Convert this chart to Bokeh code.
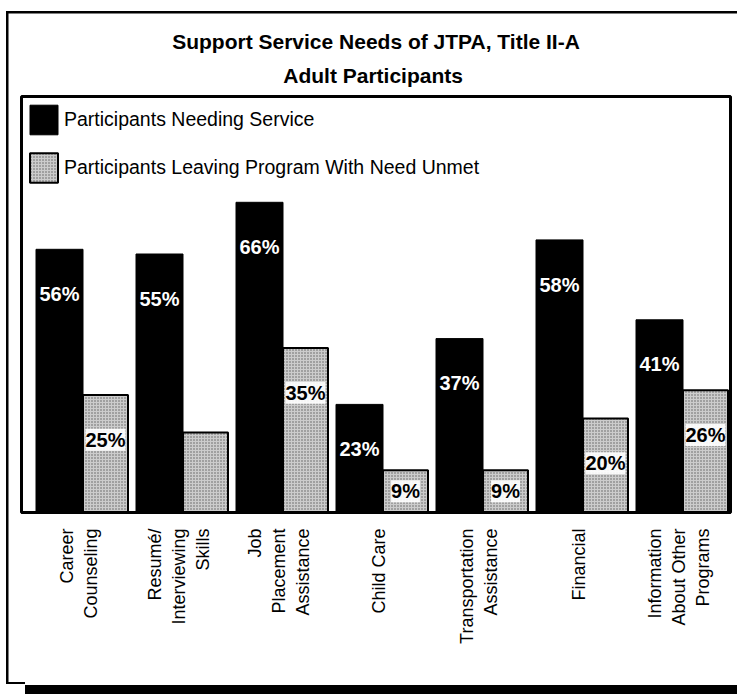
import math
from bokeh.plotting import figure
from bokeh.models import FixedTicker, Title, Range1d, ColumnDataSource
from bokeh.core.properties import value
from bokeh.embed import file_html
from bokeh.resources import INLINE
import numpy as np

# ---- data ----
categories = ["Career\nCounseling", "Resumé/\nInterviewing\nSkills", "Job\nPlacement\nAssistance",
              "Child Care", "Transportation\nAssistance", "Financial", "Information\nAbout Other\nPrograms"]
needing = [56, 55, 66, 23, 37, 58, 41]
unmet = [25, 17, 35, 9, 9, 20, 26]
needing_labels = ["56%", "55%", "66%", "23%", "37%", "58%", "41%"]
unmet_labels = ["25%", "", "35%", "9%", "9%", "20%", "26%"]
series_names = ["Participants Needing Service", "Participants Leaving Program With Need Unmet"]
title_lines = ["Support Service Needs of JTPA, Title II-A", "Adult  Participants"]

FONT = "Liberation Sans"

# pixel <-> data helpers (layout only)
X0, XS = 82.5, 100.0     # pixel x of group boundary 0, pixels per group
Y0, YS = 512.0, 4.7      # pixel y of baseline, pixels per percent
def px2x(X):
    return (X - X0) / XS
def px2y(Y):
    return (Y0 - Y) / YS

W, H = 739, 694

# page frame lines drawn as CSS background of the figure host (canvas border is transparent)
bg = ", ".join([
    "linear-gradient(#000,#000) 6px 11px / 731px 2.5px no-repeat",
    "linear-gradient(#000,#000) 6px 11px / 2.5px 673px no-repeat",
    "linear-gradient(#000,#000) 6px 682px / 19px 2px no-repeat",
    "linear-gradient(#000,#000) 25px 685px / 712px 9px no-repeat",
    "#ffffff",
])

p = figure(width=W, height=H, output_backend="svg", toolbar_location=None,
           x_range=Range1d(px2x(21), px2x(730)), y_range=Range1d(0, px2y(96)),
           y_axis_location=None, min_border_left=21, min_border_right=W - 730,
           min_border_top=96, min_border_bottom=H - 512,
           styles={"background": bg, "overflow": "hidden"})
p.xgrid.visible = False
p.ygrid.visible = False
p.outline_line_color = "black"
p.outline_line_width = 3
p.background_fill_color = "white"
p.border_fill_color = None

idx = np.arange(len(categories))
bw = 0.47
gw = 0.45
src = ColumnDataSource(dict(
    xb=idx - bw / 2, xg=idx + gw / 2, nb=needing, un=unmet,
    nl=needing_labels, ul=unmet_labels,
    nly=[max(v - 9.5, v / 2) for v in needing],
    uly=[max(v - 9.5, v / 2) for v in unmet],
))

p.vbar(x="xb", top="nb", width=bw, bottom=0, source=src, fill_color="black",
       line_color="black", line_width=1, legend_label=series_names[0])
p.vbar(x="xg", top="un", width=gw, bottom=0, source=src, fill_color="#cccccc",
       hatch_pattern="dot", hatch_color="#5e5e5e", hatch_scale=3, hatch_weight=1,
       line_color="black", line_width=2, legend_label=series_names[1])

p.text(x="xb", y="nly", text="nl", source=src, text_color="white",
       text_font=value(FONT), text_font_size="20px", text_font_style="bold",
       text_align="center", text_baseline="middle")
p.text(x="xg", y="uly", text="ul", source=src, text_color="black",
       text_font=value(FONT), text_font_size="20px", text_font_style="bold",
       text_align="center", text_baseline="middle",
       background_fill_color="white", background_fill_alpha=0.9, padding=0)

# x axis with category labels
ax = p.xaxis[0]
tick_pos = [float(i) - 0.04 for i in idx]
ax.ticker = FixedTicker(ticks=tick_pos)
ax.major_label_overrides = {t: c for t, c in zip(tick_pos, categories)}
ax.major_label_orientation = math.pi / 2
ax.major_label_text_font = FONT
ax.major_label_text_font_size = "18px"
ax.major_label_text_color = "black"
ax.major_label_standoff = 10
ax.major_tick_line_color = None
ax.minor_tick_line_color = None
ax.axis_line_color = "black"
ax.axis_line_width = 3

# legend
lg = p.legend[0]
lg.location = "top_left"
lg.margin = 5
lg.padding = 8
lg.glyph_width = 35
lg.glyph_height = 37
lg.spacing = 11
lg.label_standoff = 3
lg.label_text_font = FONT
lg.label_text_font_size = "19.5px"
lg.label_text_color = "black"
lg.border_line_color = None
lg.background_fill_alpha = 0

# two-line title (line 2 nearest the frame)
p.add_layout(Title(text=title_lines[1], align="center", text_font=FONT, text_font_size="21px",
                   text_font_style="bold", text_color="black", standoff=19), "above")
p.add_layout(Title(text=title_lines[0], align="center", text_font=FONT, text_font_size="21px",
                   text_font_style="bold", text_color="black", standoff=0), "above")

open("out.html", "w").write(file_html(p, INLINE))
